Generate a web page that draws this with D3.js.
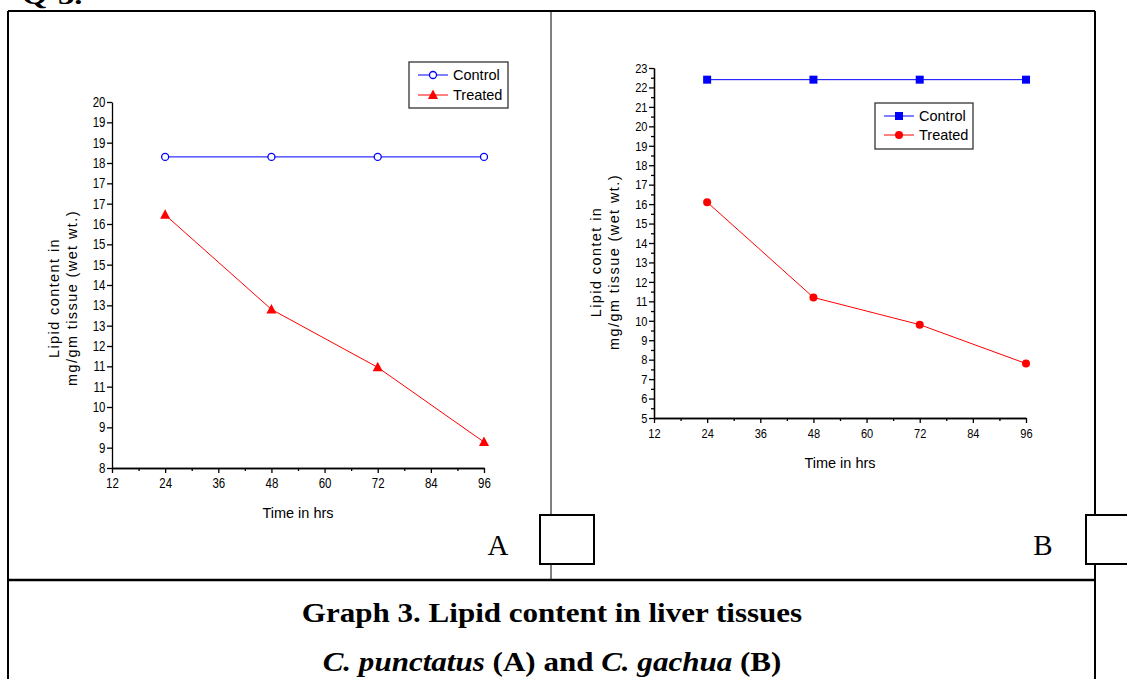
<!DOCTYPE html>
<html>
<head>
<meta charset="utf-8">
<script src="https://cdn.jsdelivr.net/npm/d3@7"></script>
<style>
  body { margin: 0; background: #fff; }
  svg { display: block; }
  .tick text { font-family: "Liberation Sans", Arial, sans-serif; fill: #000; }
  .domain, .tick line { stroke: #000; stroke-width: 1.3; }
</style>
</head>
<body>
<div class="graph"></div>
<script>
// Data
var hours = [24, 48, 72, 96];
var controlA = [18.2, 18.2, 18.2, 18.2];
var treatedA = [16.3, 13.2, 11.3, 8.85];
var controlB = [22.4, 22.4, 22.4, 22.4];
var treatedB = [16.1, 11.2, 9.8, 7.8];
var seriesNames = ["Control", "Treated"];

// Tick labels
var xTicks = [12, 24, 36, 48, 60, 72, 84, 96];
var xMinorTicks = [18, 30, 42, 54, 66, 78, 90];
// panel A axis had 19 ticks from 8 to 20, labels rounded by the plotting program
var yTickLabelsA = ["8", "9", "9", "10", "11", "11", "12", "13", "13", "14", "15", "15", "16", "17", "17", "18", "19", "19", "20"];
var yTicksB = [5, 6, 7, 8, 9, 10, 11, 12, 13, 14, 15, 16, 17, 18, 19, 20, 21, 22, 23];
var yMinorTicksB = [5.5, 6.5, 7.5, 8.5, 9.5, 10.5, 11.5, 12.5, 13.5, 14.5, 15.5, 16.5, 17.5, 18.5, 19.5, 20.5, 21.5, 22.5];

var svgWidth = 1127;
var svgHeight = 679;
var blue = "#0000ff";
var red = "#ff0000";
var sans = "'Liberation Sans', Arial, sans-serif";
var serif = "'Liberation Serif', 'Times New Roman', serif";

var svg = d3.select(".graph")
  .append("svg")
  .attr("width", svgWidth)
  .attr("height", svgHeight);

// page bits: cut off question number and the frame
svg.append("text")
  .attr("transform", "translate(22,4) scale(1.25,1)")
  .style("font-family", serif).style("font-size", "26px").style("font-weight", "bold")
  .text("Q-3.");

var frame = svg.append("g").attr("stroke", "#000").attr("fill", "none");
frame.append("line").attr("x1", 8).attr("y1", 11).attr("x2", 1095).attr("y2", 11).attr("stroke-width", 2);
frame.append("line").attr("x1", 8).attr("y1", 11).attr("x2", 8).attr("y2", 679).attr("stroke-width", 2);
frame.append("line").attr("x1", 1095).attr("y1", 11).attr("x2", 1095).attr("y2", 679).attr("stroke-width", 2);
frame.append("line").attr("x1", 551).attr("y1", 11).attr("x2", 551).attr("y2", 580).attr("stroke-width", 1);
frame.append("line").attr("x1", 8).attr("y1", 580).attr("x2", 1095).attr("y2", 580).attr("stroke-width", 2.5);
frame.append("rect").attr("x", 540).attr("y", 515).attr("width", 54).attr("height", 49)
  .attr("fill", "#fff").attr("stroke-width", 2);
frame.append("rect").attr("x", 1086).attr("y", 515).attr("width", 60).attr("height", 49)
  .attr("fill", "#fff").attr("stroke-width", 2);

// panel letters
svg.append("text").attr("x", 498).attr("y", 555).attr("text-anchor", "middle")
  .style("font-family", serif).style("font-size", "29px").text("A");
svg.append("text").attr("x", 1043).attr("y", 555).attr("text-anchor", "middle")
  .style("font-family", serif).style("font-size", "29px").text("B");

// caption (original face is wider than Liberation Serif, so stretch it a bit)
svg.append("text").attr("transform", "translate(552,622) scale(1.15,1)")
  .attr("text-anchor", "middle")
  .style("font-family", serif).style("font-size", "27px").style("font-weight", "bold")
  .text("Graph 3. Lipid content in liver tissues");
var cap2 = svg.append("text").attr("transform", "translate(552,671) scale(1.15,1)")
  .attr("text-anchor", "middle")
  .style("font-family", serif).style("font-size", "27px").style("font-weight", "bold");
cap2.append("tspan").style("font-style", "italic").text("C. punctatus");
cap2.append("tspan").text(" (A) and ");
cap2.append("tspan").style("font-style", "italic").text("C. gachua");
cap2.append("tspan").text(" (B)");

// marker shapes
function drawMarker(g, kind, x, y) {
  if (kind === "openCircle") {
    g.append("circle").attr("cx", x).attr("cy", y).attr("r", 3.5)
      .attr("fill", "#fff").attr("stroke", blue).attr("stroke-width", 1.3);
  } else if (kind === "triangle") {
    g.append("path").attr("transform", `translate(${x},${y})`)
      .attr("d", "M0,-5.5L5,4L-5,4Z").attr("fill", red);
  } else if (kind === "square") {
    g.append("rect").attr("x", x - 4).attr("y", y - 4).attr("width", 8).attr("height", 8).attr("fill", blue);
  } else {
    g.append("circle").attr("cx", x).attr("cy", y).attr("r", 4).attr("fill", red);
  }
}

// one panel
function drawPanel(opt) {
  var g = svg.append("g");

  var xScale = d3.scaleLinear().domain([12, 96]).range([opt.left, opt.right]);
  var yScale = d3.scaleLinear().domain(opt.yDomain).range([opt.bottom, opt.top]);

  // x axis, minor ticks first
  g.append("g").attr("transform", `translate(0,${opt.bottom})`)
    .call(d3.axisBottom(xScale).tickValues(xMinorTicks).tickSize(3).tickSizeOuter(0).tickFormat(""));
  var xAxis = g.append("g").attr("transform", `translate(0,${opt.bottom})`)
    .call(d3.axisBottom(xScale).tickValues(xTicks).tickSize(5).tickSizeOuter(0).tickPadding(5));
  xAxis.selectAll("text").style("font-size", opt.tickFont).attr("transform", "scale(0.82,1)");

  // y axis
  if (opt.yMinor) {
    g.append("g").attr("transform", `translate(${opt.left},0)`)
      .call(d3.axisLeft(yScale).tickValues(opt.yMinor).tickSize(3).tickSizeOuter(0).tickFormat(""));
  }
  var yAxis = g.append("g").attr("transform", `translate(${opt.left},0)`)
    .call(d3.axisLeft(yScale).tickValues(opt.yTicks).tickSize(5).tickSizeOuter(0).tickPadding(3)
      .tickFormat(opt.yFormat));
  yAxis.selectAll("text").style("font-size", opt.tickFont).attr("transform", "scale(0.82,1)");

  // axis titles
  g.append("text")
    .attr("x", (opt.left + opt.right) / 2).attr("y", opt.bottom + 50)
    .attr("text-anchor", "middle")
    .style("font-family", sans).style("font-size", "14.5px")
    .text("Time in hrs");
  var yTitle = g.append("text")
    .attr("transform", `translate(${opt.left - 53},${opt.yTitleMid})rotate(-90)`)
    .attr("text-anchor", "middle")
    .style("font-family", sans).style("font-size", "14.5px").style("letter-spacing", "1.4px");
  yTitle.append("tspan").attr("x", 0).attr("y", 0).text(opt.yTitle1);
  yTitle.append("tspan").attr("x", 0).attr("y", 18).text(opt.yTitle2);

  // lines and markers
  var line = d3.line()
    .x((d, i) => xScale(hours[i]))
    .y(d => yScale(d));
  opt.series.forEach(function(s) {
    g.append("path").datum(s.values)
      .attr("d", line).attr("fill", "none").attr("stroke", s.color).attr("stroke-width", 1);
    s.values.forEach(function(v, i) {
      drawMarker(g, s.marker, xScale(hours[i]), yScale(v));
    });
  });

  // legend
  var lg = g.append("g");
  lg.append("rect")
    .attr("x", opt.legend.x).attr("y", opt.legend.y)
    .attr("width", opt.legend.w).attr("height", opt.legend.h)
    .attr("fill", "#fff").attr("stroke", "#333").attr("stroke-width", 1.3);
  opt.series.forEach(function(s, i) {
    var ly = opt.legend.y + 13 + i * opt.legend.step;
    var lx = opt.legend.x + 9;
    lg.append("line").attr("x1", lx).attr("x2", lx + 30).attr("y1", ly).attr("y2", ly)
      .attr("stroke", s.color).attr("stroke-width", 1);
    drawMarker(lg, s.marker, lx + 15, ly);
    lg.append("text").attr("x", lx + 35).attr("y", ly + 5)
      .style("font-family", sans).style("font-size", "14.5px")
      .text(seriesNames[i]);
  });
}

drawPanel({
  left: 112, right: 484, top: 102, bottom: 468,
  yDomain: [8, 20],
  yTicks: yTickLabelsA.map((d, i) => 8 + i * 12 / (yTickLabelsA.length - 1)),
  yFormat: (d, i) => yTickLabelsA[i],
  yMinor: null,
  tickFont: "14px",
  yTitle1: "Lipid content in",
  yTitle2: "mg/gm tissue (wet wt.)",
  yTitleMid: 298,
  legend: { x: 409, y: 62, w: 99, h: 46, step: 20 },
  series: [
    { values: controlA, color: blue, marker: "openCircle" },
    { values: treatedA, color: red, marker: "triangle" }
  ]
});

drawPanel({
  left: 654, right: 1026, top: 68, bottom: 418,
  yDomain: [5, 23],
  yTicks: yTicksB,
  yFormat: d3.format("d"),
  yMinor: yMinorTicksB,
  tickFont: "13.5px",
  yTitle1: "Lipid contet in",
  yTitle2: "mg/gm tissue (wet wt.)",
  yTitleMid: 262,
  legend: { x: 875, y: 103, w: 98, h: 46, step: 19 },
  series: [
    { values: controlB, color: blue, marker: "square" },
    { values: treatedB, color: red, marker: "circle" }
  ]
});
</script>
</body>
</html>
